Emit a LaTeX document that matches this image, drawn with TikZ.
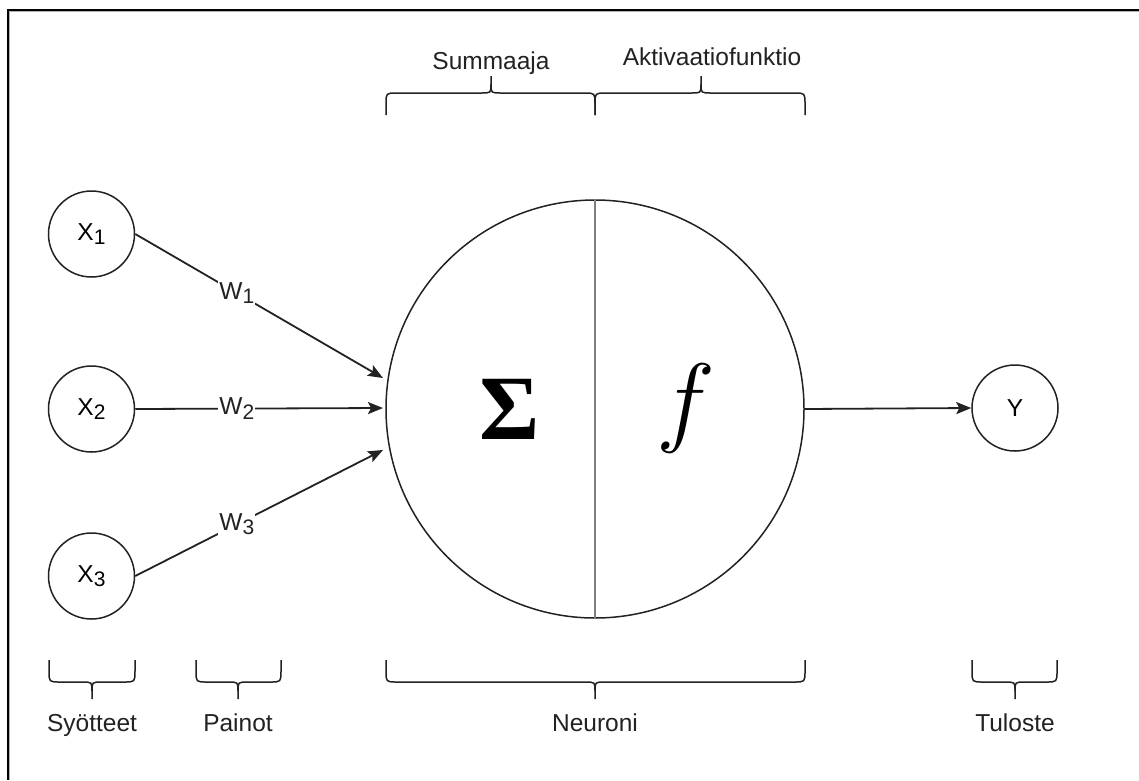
\RequirePackage{fix-cm}
\documentclass[tikz,border=0pt]{standalone}
\usepackage{fontspec}
\setmainfont{Liberation Sans}
\newfontfamily\sigmafont{Liberation Serif}
\usetikzlibrary{arrows.meta,calc}

\definecolor{ink}{HTML}{222222}
\definecolor{divgray}{HTML}{808080}

\newcommand\lowsub[1]{\raisebox{-4.5pt}{\fontsize{21}{24}\selectfont #1}}

\tikzset{
  bracestyle/.style={draw=ink, line width=1.5pt},
  smallcirc/.style={circle, draw=ink, line width=1.5pt, minimum size=86pt, inner sep=0pt, font=\fontsize{24.5}{29}\selectfont},
  bigcirc/.style={circle, draw=ink, line width=1.5pt, minimum size=418pt, inner sep=0pt},
  lbl/.style={inner sep=0pt, anchor=base, text=ink, font=\fontsize{24.5}{29}\selectfont},
  wlbl/.style={fill=white, inner sep=1pt, text=ink, font=\fontsize{24.5}{29}\selectfont},
  conn/.style={draw=ink, line width=1.8pt, -{Stealth[length=15pt, width=12pt, inset=3pt]}},
}

% x1, x2, xm (tip), y0 (ends), d (+1 tip down, -1 tip up)
\newcommand\curlybrace[5]{%
  \draw[bracestyle] ({#1},{#4}) -- ({#1},{#4+11*(#5)})
    .. controls ({#1},{#4+22*(#5)}) .. ({#1+11},{#4+22*(#5)})
    -- ({#3-10},{#4+22*(#5)})
    .. controls ({#3},{#4+22*(#5)}) .. ({#3},{#4+31*(#5)})
    -- ({#3},{#4+39*(#5)});
  \draw[bracestyle] ({#3},{#4+31*(#5)})
    .. controls ({#3},{#4+22*(#5)}) .. ({#3+10},{#4+22*(#5)})
    -- ({#2-11},{#4+22*(#5)})
    .. controls ({#2},{#4+22*(#5)}) .. ({#2},{#4+11*(#5)})
    -- ({#2},{#4});
}

\begin{document}
\begin{tikzpicture}[x=1pt, y=-1pt]
  \useasboundingbox (0,0) rectangle (1139,780);
  \fill[white] (0,0) rectangle (1139,780);
  % frame (left and top edges)
  \draw[black, line width=2pt] (8.25,780) -- (8.25,10.25) -- (1139,10.25);
  \draw[gray!60, line width=1pt] (9.75,780) -- (9.75,11.75) -- (1139,11.75);

  % inputs
  \node[smallcirc] (x1) at (91.5,234) {X\lowsub{1}};
  \node[smallcirc] (x2) at (91.5,409) {X\lowsub{2}};
  \node[smallcirc] (x3) at (91.5,576) {X\lowsub{3}};

  % neuron
  \node[bigcirc] (neuron) at (595,409) {};
  \draw[divgray, line width=2pt] (neuron.north) -- (neuron.south);
  \node[inner sep=0pt] (sigma) at (510,409) {\sigmafont\bfseries\fontsize{92}{92}\selectfont Σ};
  \node[inner sep=0pt] (fsym) at (686,408) {\fontsize{100}{100}\selectfont$f$};

  % output
  \node[smallcirc] (y) at (1015,408) {Y};

  % arrow targets
  \coordinate (in1) at (383,378);
  \coordinate (in2) at (383,408);
  \coordinate (in3) at (383,450);

  \draw[conn] (x1.east) -- node[wlbl, pos=0.41] (w1) {W\lowsub{1}} (in1);
  \draw[conn] (x2.east) -- node[wlbl, pos=0.41] (w2) {W\lowsub{2}} (in2);
  \draw[conn] (x3.east) -- node[wlbl, pos=0.41] (w3) {W\lowsub{3}} (in3);
  \draw[conn] (neuron.east) -- (y.west);

  % top braces
  \curlybrace{386}{595}{491}{115}{-1}
  \curlybrace{595}{805}{701}{115}{-1}
  \node[lbl] (lsum) at (491,69) {Summaaja};
  \node[lbl] (lakt) at (712,65) {Aktivaatiofunktio};

  % bottom braces
  \curlybrace{49}{135}{92}{660}{1}
  \curlybrace{196}{281}{238}{660}{1}
  \curlybrace{386}{805}{595}{660}{1}
  \curlybrace{972}{1057}{1015}{660}{1}
  \node[lbl] (lsyo) at (92,731) {Syötteet};
  \node[lbl] (lpai) at (238,731) {Painot};
  \node[lbl] (lneu) at (595,731) {Neuroni};
  \node[lbl] (ltul) at (1015,731) {Tuloste};
\end{tikzpicture}
\end{document}
